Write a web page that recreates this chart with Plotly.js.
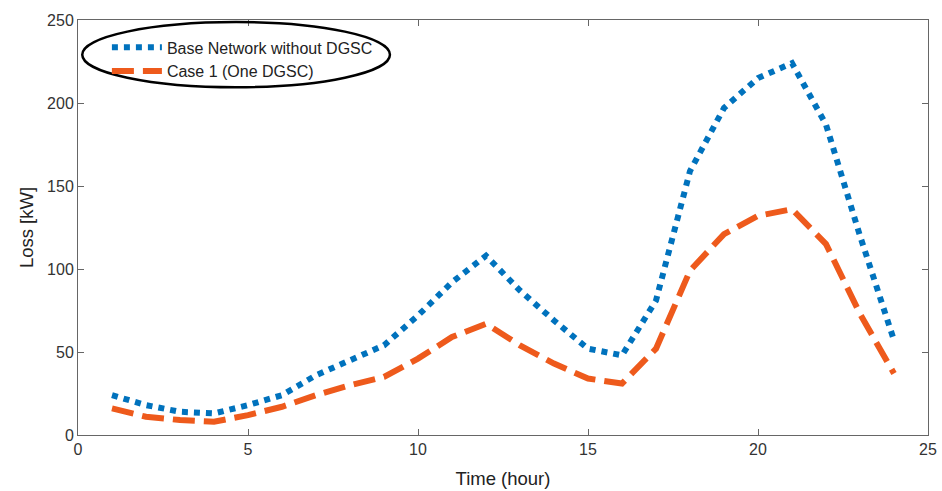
<!DOCTYPE html>
<html>
<head>
<meta charset="utf-8">
<script src="https://cdn.plot.ly/plotly-3.0.1.min.js"></script>
<style>html,body{margin:0;padding:0;background:#fff;}#chart{width:942px;height:491px;}</style>
</head>
<body>
<div id="chart"></div>
<script>
const hours = [1,2,3,4,5,6,7,8,9,10,11,12,13,14,15,16,17,18,19,20,21,22,23,24];
const baseLoss = [24,18,14,13,18,24,36,45,54,72,92,108,87,69,52,48,81,159,197,215,224,187,120,57];
const case1Loss = [16,11,9,8,12,17,24,30,35,46,59,67,54,43,34,31,52,99,121,132,136,115,73,37];
const seriesNames = ['Base Network without DGSC','Case 1 (One DGSC)'];
const xTicks = [0,5,10,15,20,25];
const yTicks = [0,50,100,150,200,250];

const font = 'Liberation Sans, Arial, sans-serif';
const traces = [
  {x: hours, y: baseLoss, name: seriesNames[0], mode: 'lines', type: 'scatter',
   line: {color: '#0072BD', width: 6, dash: '6px,6px'}},
  {x: hours, y: case1Loss, name: seriesNames[1], mode: 'lines', type: 'scatter',
   line: {color: '#EE5A1C', width: 6, dash: '22px,9px'}}
];
const axisCommon = {
  showgrid: false, zeroline: false, showline: true, linecolor: '#666', linewidth: 1,
  mirror: 'ticks', ticks: 'inside', ticklen: 6, tickcolor: '#666',
  tickfont: {family: font, size: 16, color: '#333'}
};
const layout = {
  width: 942, height: 491,
  margin: {l: 78, r: 14, t: 20, b: 56},
  paper_bgcolor: '#fff', plot_bgcolor: '#fff',
  showlegend: true,
  legend: {x: 0.034, y: 0.975, xanchor: 'left', yanchor: 'top', bgcolor: 'rgba(0,0,0,0)',
           font: {family: font, size: 16, color: '#222'}, tracegroupgap: 0, itemwidth: 50},
  xaxis: Object.assign({}, axisCommon, {range: [0, 25], tickvals: xTicks,
           title: {text: 'Time (hour)', font: {family: font, size: 18.5, color: '#222'}, standoff: 14}}),
  yaxis: Object.assign({}, axisCommon, {range: [0, 250], tickvals: yTicks,
           title: {text: 'Loss [kW]', font: {family: font, size: 18.5, color: '#222'}, standoff: 8}}),
  shapes: [{type: 'circle', xref: 'paper', yref: 'paper',
            x0: 0.005, x1: 0.367, y0: 0.838, y1: 0.995,
            line: {color: '#000', width: 2.5}}]
};
Plotly.newPlot('chart', traces, layout, {displayModeBar: false, staticPlot: true});
</script>
</body>
</html>
